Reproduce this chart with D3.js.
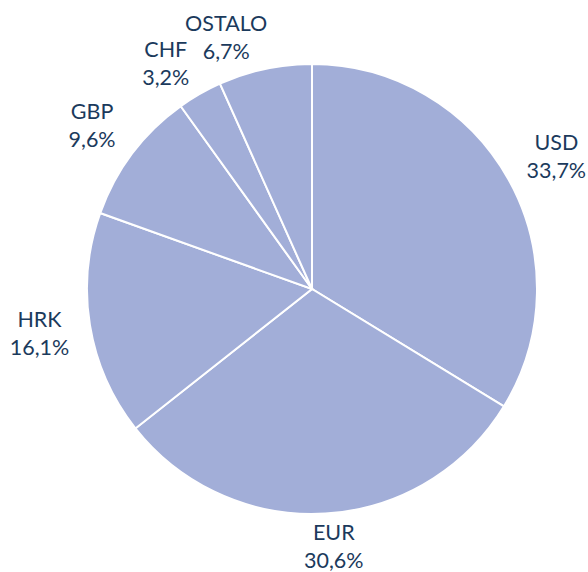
<!DOCTYPE html>
<html>
<head>
<meta charset="utf-8">
<script src="https://cdn.jsdelivr.net/npm/d3@7"></script>
<style>
  body { margin: 0; background: #fff; }
  text { font-family: Lato, "Open Sans", sans-serif; }
</style>
</head>
<body>
<script>
// currency shares, clockwise from 12 o'clock
var currencies = ["USD", "EUR", "HRK", "GBP", "CHF", "OSTALO"];
var shares = [33.7, 30.6, 16.1, 9.6, 3.2, 6.7];

var width = 588, height = 572;
var cx = 312, cy = 289, radius = 225;

var svg = d3.select("body").append("svg")
  .attr("width", width)
  .attr("height", height);

var g = svg.append("g")
  .attr("transform", "translate(" + cx + "," + cy + ")");

var pie = d3.pie().sort(null).value(function(d) { return d; });
var arcs = pie(shares);

var arc = d3.arc().innerRadius(0).outerRadius(radius);

g.selectAll("path")
  .data(arcs)
  .enter()
  .append("path")
  .attr("d", arc)
  .attr("fill", "#a2aed8")
  .attr("stroke", "#fff")
  .attr("stroke-width", 2);

var fmt = function(v) { return v.toFixed(1).replace(".", ",") + "%"; };

var labels = g.selectAll("text.lbl")
  .data(arcs)
  .enter()
  .append("text")
  .attr("class", "lbl")
  .attr("text-anchor", "middle")
  .attr("fill", "#1b3a5c")
  .style("font-size", "21.5px");

labels.append("tspan")
  .attr("x", 0).attr("y", 0)
  .text(function(d, i) { return currencies[i]; });
labels.append("tspan")
  .attr("x", 0).attr("dy", 28)
  .text(function(d) { return fmt(d.value); });

// excel-ish "outside end": the box side/corner facing the pie sits on a ring
// (a bit wider than tall)
var rx = radius + 21, ry = radius + 10;
function clamp(v) { return Math.max(-1, Math.min(1, v)); }

labels.attr("transform", function(d) {
  var a = (d.startAngle + d.endAngle) / 2;
  var s = Math.sin(a), c = Math.cos(a);
  var w = this.getBBox().width;
  var h = 44; // cap top of line 1 to baseline of line 2, roughly
  var px = s * rx, py = -c * ry;
  var mx = px + clamp(s / 0.25) * w / 2;
  var my = py - clamp(c / 0.6) * h / 2;
  // baseline of line 1 sits ~16px under the visual top
  return "translate(" + mx + "," + (my - h / 2 + 16) + ")";
});
</script>
</body>
</html>
